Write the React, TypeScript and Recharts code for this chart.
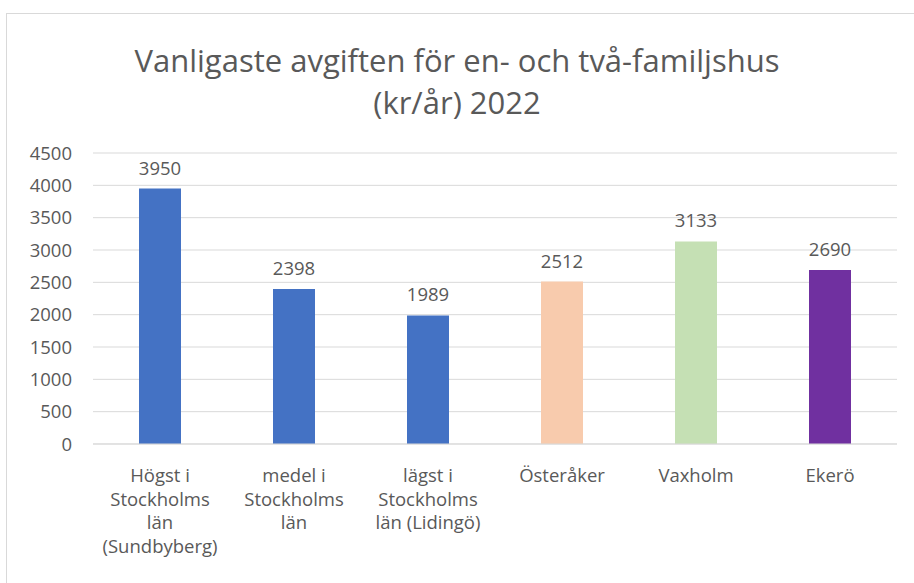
import React from 'react';
import { BarChart, Bar, XAxis, YAxis, CartesianGrid, Cell, LabelList } from 'recharts';

const categories = [
  'Högst i Stockholms län (Sundbyberg)',
  'medel i Stockholms län',
  'lägst i Stockholms län (Lidingö)',
  'Österåker',
  'Vaxholm',
  'Ekerö',
];
const tickLines: string[][] = [
  ['Högst i', 'Stockholms', 'län', '(Sundbyberg)'],
  ['medel i', 'Stockholms', 'län'],
  ['lägst i', 'Stockholms', 'län (Lidingö)'],
  ['Österåker'],
  ['Vaxholm'],
  ['Ekerö'],
];
const values = [3950, 2398, 1989, 2512, 3133, 2690];
const barColors = ['#4472C4', '#4472C4', '#4472C4', '#F8CBAD', '#C5E0B4', '#7030A0'];
const yTicks = [0, 500, 1000, 1500, 2000, 2500, 3000, 3500, 4000, 4500];

const data = categories.map((name, i) => ({ name, value: values[i] }));

const FONT = '"Open Sans", Calibri, sans-serif';
const GREY = '#595959';

function XTick(props: any) {
  const { x, y, payload } = props;
  const idx = categories.indexOf(payload.value);
  const lines = idx >= 0 ? tickLines[idx] : [payload.value];
  return (
    <g transform={`translate(${x},${y})`}>
      {lines.map((ln, i) => (
        <text key={i} x={0} y={30 + i * 23.5} textAnchor="middle" fill={GREY} fontSize={18.5} fontFamily={FONT}>
          {ln}
        </text>
      ))}
    </g>
  );
}

export default function App() {
  return (
    <div style={{ position: 'absolute', left: 0, top: 0, width: 914, height: 583, background: '#fff', overflow: 'hidden' }}>
      <div style={{ position: 'absolute', left: 6, top: 13, width: 920, height: 600, border: '1px solid #d9d9d9', boxSizing: 'border-box' }} />
      <div
        style={{
          position: 'absolute', left: 0, top: 39, width: 914, textAlign: 'center',
          fontFamily: FONT, fontSize: 31, color: GREY, lineHeight: '42px',
        }}
      >
        Vanligaste avgiften för en- och två-familjshus
        <br />
        (kr/år) 2022
      </div>
      <div style={{ position: 'absolute', left: 0, top: 0 }}>
        <BarChart width={914} height={583} data={data} margin={{ top: 153, right: 17, bottom: 0, left: 0 }}>
          <CartesianGrid vertical={false} stroke="#d9d9d9" strokeWidth={1} />
          <XAxis
            dataKey="name"
            interval={0}
            axisLine={{ stroke: '#d9d9d9' }}
            tickLine={false}
            tick={<XTick />}
            height={139}
          />
          <YAxis
            width={93}
            domain={[0, 4500]}
            ticks={yTicks}
            interval={0}
            axisLine={false}
            tickLine={false}
            tickSize={0}
            tickMargin={21}
            tick={{ fill: GREY, fontSize: 18.5, fontFamily: FONT }}
          />
          <Bar dataKey="value" barSize={42} isAnimationActive={false}>
            {data.map((d, i) => (
              <Cell key={d.name} fill={barColors[i]} />
            ))}
            <LabelList dataKey="value" position="top" offset={14} fill={GREY} fontSize={18.5} fontFamily={FONT} />
          </Bar>
        </BarChart>
      </div>
    </div>
  );
}
